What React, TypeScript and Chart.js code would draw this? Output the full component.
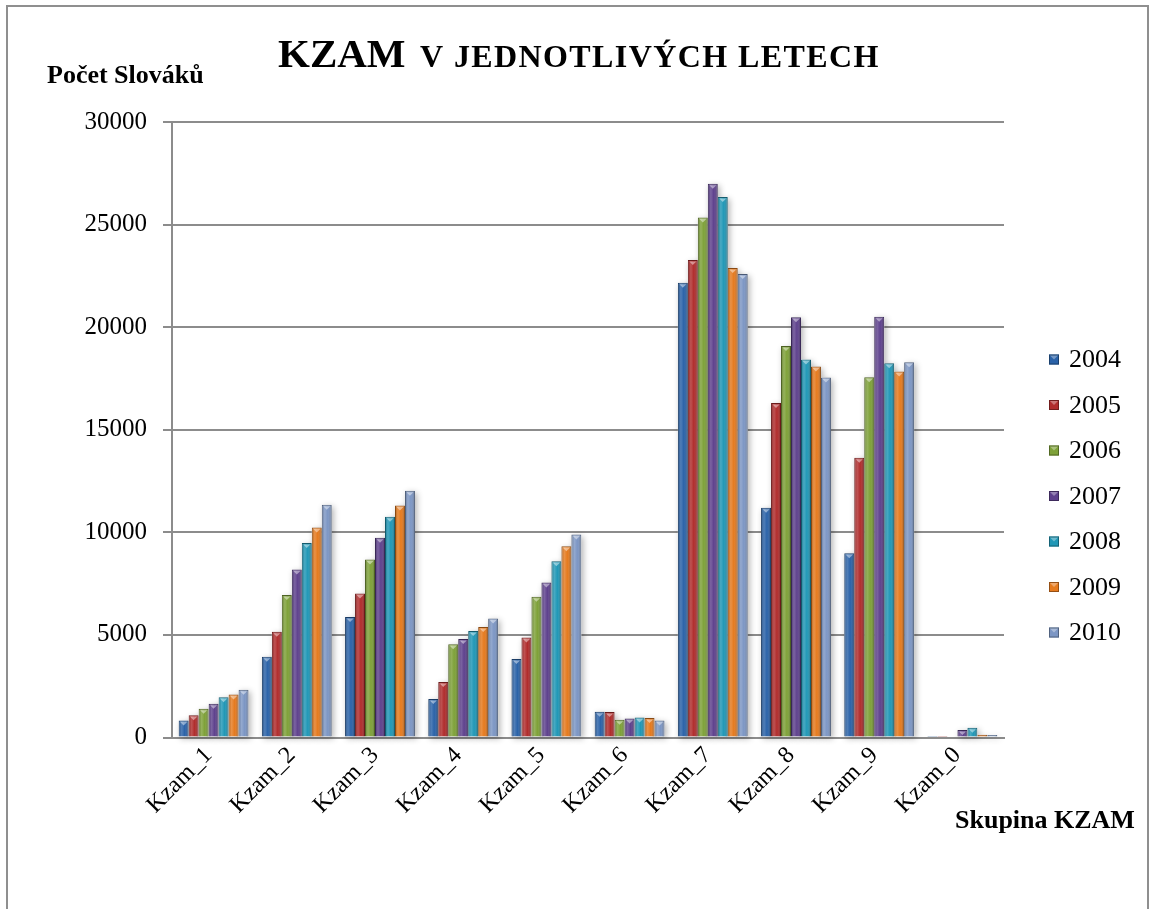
import React, { useEffect, useRef } from "react";
import { Chart, registerables } from "chart.js";

Chart.register(...registerables);

// ---------- DATA ----------
const categories = ["Kzam_1", "Kzam_2", "Kzam_3", "Kzam_4", "Kzam_5", "Kzam_6", "Kzam_7", "Kzam_8", "Kzam_9", "Kzam_0"];
const years = ["2004", "2005", "2006", "2007", "2008", "2009", "2010"];

const values2004 = [830, 3940, 5870, 1880, 3830, 1250, 22170, 11200, 8980, 20];
const values2005 = [1080, 5150, 7020, 2710, 4880, 1240, 23270, 16300, 13640, 30];
const values2006 = [1400, 6950, 8670, 4540, 6860, 860, 25340, 19080, 17560, 50];
const values2007 = [1650, 8190, 9740, 4800, 7560, 920, 26990, 20480, 20510, 370];
const values2008 = [1960, 9480, 10760, 5190, 8590, 970, 26350, 18430, 18240, 470];
const values2009 = [2090, 10230, 11310, 5380, 9320, 950, 22880, 18080, 17840, 130];
const values2010 = [2330, 11350, 12030, 5800, 9890, 830, 22590, 17550, 18290, 120];

const seriesValues = [values2004, values2005, values2006, values2007, values2008, values2009, values2010];

const yMin = 0;
const yMax = 30000;
const yStep = 5000;

const titleMain = "KZAM";
const titleRest = "V JEDNOTLIVÝCH LETECH";
const yAxisTitle = "Počet Slováků";
const xAxisTitle = "Skupina KZAM";

// ---------- STYLE ----------
const seriesColors = ["#2A62A8", "#B02C2C", "#7EA138", "#5E418D", "#2097B6", "#E57A1E", "#7C96C4"];
const FONT = "'Liberation Serif', 'Times New Roman', serif";

function shade(hex: string, f: number): string {
  const n = parseInt(hex.slice(1), 16);
  let r = (n >> 16) & 255, g = (n >> 8) & 255, b = n & 255;
  if (f < 0) {
    r = Math.round(r * (1 + f)); g = Math.round(g * (1 + f)); b = Math.round(b * (1 + f));
  } else {
    r = Math.round(r + (255 - r) * f); g = Math.round(g + (255 - g) * f); b = Math.round(b + (255 - b) * f);
  }
  return `rgb(${r},${g},${b})`;
}

const barShadowPlugin = {
  id: "barShadow",
  beforeDatasetsDraw(chart: any) {
    const ctx = chart.ctx;
    ctx.save();
    chart.data.datasets.forEach((_: any, i: number) => {
      const meta = chart.getDatasetMeta(i);
      meta.data.forEach((bar: any) => {
        const { x, y, base, width } = bar.getProps(["x", "y", "base", "width"], true);
        const h = base - y;
        if (h < 1) return;
        ctx.shadowColor = "rgba(0,0,0,0.3)";
        ctx.shadowBlur = 6;
        ctx.shadowOffsetX = 2;
        ctx.shadowOffsetY = 2;
        ctx.fillStyle = "#ffffff";
        ctx.fillRect(x - width / 2, y, width, h);
      });
    });
    ctx.restore();
  },
};

const bar3dPlugin = {
  id: "bar3d",
  afterDatasetsDraw(chart: any) {
    const ctx = chart.ctx;
    ctx.save();
    chart.data.datasets.forEach((_: any, i: number) => {
      const meta = chart.getDatasetMeta(i);
      meta.data.forEach((bar: any) => {
        const { x, y, base, width } = bar.getProps(["x", "y", "base", "width"], true);
        const left = x - width / 2;
        const h = base - y;
        if (h < 1) return;
        const g = ctx.createLinearGradient(left, 0, left + width, 0);
        g.addColorStop(0, "rgba(0,0,0,0.25)");
        g.addColorStop(0.3, "rgba(255,255,255,0.18)");
        g.addColorStop(0.6, "rgba(255,255,255,0.0)");
        g.addColorStop(1, "rgba(0,0,0,0.35)");
        ctx.fillStyle = g;
        ctx.fillRect(left + 1, y + 1, width - 2, h - 1);
        if (h > 4) {
          ctx.beginPath();
          ctx.moveTo(left + 1.5, y + 1.5);
          ctx.lineTo(left + width - 1.5, y + 1.5);
          ctx.lineTo(x, y + Math.min(5, h - 1));
          ctx.closePath();
          ctx.fillStyle = "rgba(255,255,255,0.45)";
          ctx.fill();
        }
      });
    });
    ctx.restore();
  },
};

const textsPlugin = {
  id: "texts",
  afterDraw(chart: any) {
    const ctx = chart.ctx;
    ctx.save();
    ctx.fillStyle = "#000";
    ctx.textBaseline = "alphabetic";
    ctx.textAlign = "left";
    // title
    ctx.font = `bold 41px ${FONT}`;
    ctx.fillText(titleMain, 278, 67);
    ctx.font = `bold 32px ${FONT}`;
    try { (ctx as any).letterSpacing = "1.4px"; } catch (e) {}
    ctx.fillText(titleRest, 420, 67);
    try { (ctx as any).letterSpacing = "0px"; } catch (e) {}
    // axis titles
    ctx.font = `bold 26px ${FONT}`;
    ctx.fillText(yAxisTitle, 47, 83);
    ctx.fillText(xAxisTitle, 955, 828);
    // legend
    chart.data.datasets.forEach((ds: any, i: number) => {
      const cy = 359.5 + i * 45.5;
      const bx = 1049, by = cy - 5, s = 10;
      const c = seriesColors[i];
      ctx.fillStyle = c;
      ctx.fillRect(bx, by, s, s);
      ctx.beginPath();
      ctx.moveTo(bx, by); ctx.lineTo(bx + s, by); ctx.lineTo(bx + s / 2, by + s / 2); ctx.closePath();
      ctx.fillStyle = "rgba(255,255,255,0.35)";
      ctx.fill();
      ctx.strokeStyle = shade(c, -0.35);
      ctx.lineWidth = 1;
      ctx.strokeRect(bx + 0.5, by + 0.5, s - 1, s - 1);
      ctx.fillStyle = "#000";
      ctx.font = `26px ${FONT}`;
      ctx.textBaseline = "middle";
      ctx.fillText(ds.label, 1069, cy + 1);
      ctx.textBaseline = "alphabetic";
    });
    ctx.restore();
  },
};

export default function App() {
  const canvasRef = useRef<HTMLCanvasElement | null>(null);

  useEffect(() => {
    if (!canvasRef.current) return;
    const datasets = years.map((yr, i) => ({
      label: yr,
      data: seriesValues[i],
      backgroundColor: seriesColors[i],
      borderColor: shade(seriesColors[i], -0.4),
      borderWidth: 1,
      barPercentage: 1.0,
      categoryPercentage: 0.84,
    }));
    const chart = new Chart(canvasRef.current, {
      type: "bar",
      data: { labels: categories, datasets },
      plugins: [barShadowPlugin, bar3dPlugin, textsPlugin],
      options: {
        responsive: false,
        animation: false,
        devicePixelRatio: 1,
        layout: { padding: { top: 122, right: 147, bottom: 0, left: 0 } },
        plugins: {
          legend: { display: false },
          title: { display: false },
          tooltip: { enabled: false },
        },
        scales: {
          x: {
            grid: { display: false, drawTicks: false },
            border: { display: true, color: "#8c8c8c", width: 2 },
            ticks: {
              autoSkip: false,
              maxRotation: 45,
              minRotation: 45,
              padding: 4,
              labelOffset: -5,
              color: "#000",
              font: { family: FONT, size: 24 },
            },
            afterFit: (s: any) => { s.height = 171.5; },
          },
          y: {
            min: yMin,
            max: yMax,
            ticks: {
              stepSize: yStep,
              padding: 16,
              color: "#000",
              font: { family: FONT, size: 25 },
              callback: (v: any) => String(v),
            },
            grid: { color: "#8c8c8c", lineWidth: 2, drawTicks: true, tickLength: 9 },
            border: { display: true, color: "#8c8c8c", width: 2 },
            afterFit: (s: any) => { s.width = 172; },
          },
        },
      } as any,
    });
    return () => chart.destroy();
  }, []);

  return (
    <div style={{ position: "absolute", left: 0, top: 0, width: 1151, height: 909, overflow: "hidden", background: "#fff" }}>
      <div
        style={{
          position: "absolute",
          left: 6,
          top: 5,
          width: 1139,
          height: 1000,
          borderTop: "2px solid #8f8f8f",
          borderLeft: "2px solid #8f8f8f",
          borderRight: "2px solid #8f8f8f",
        }}
      />
      <canvas ref={canvasRef} width={1151} height={909} style={{ position: "absolute", left: 0, top: 0 }} />
    </div>
  );
}
